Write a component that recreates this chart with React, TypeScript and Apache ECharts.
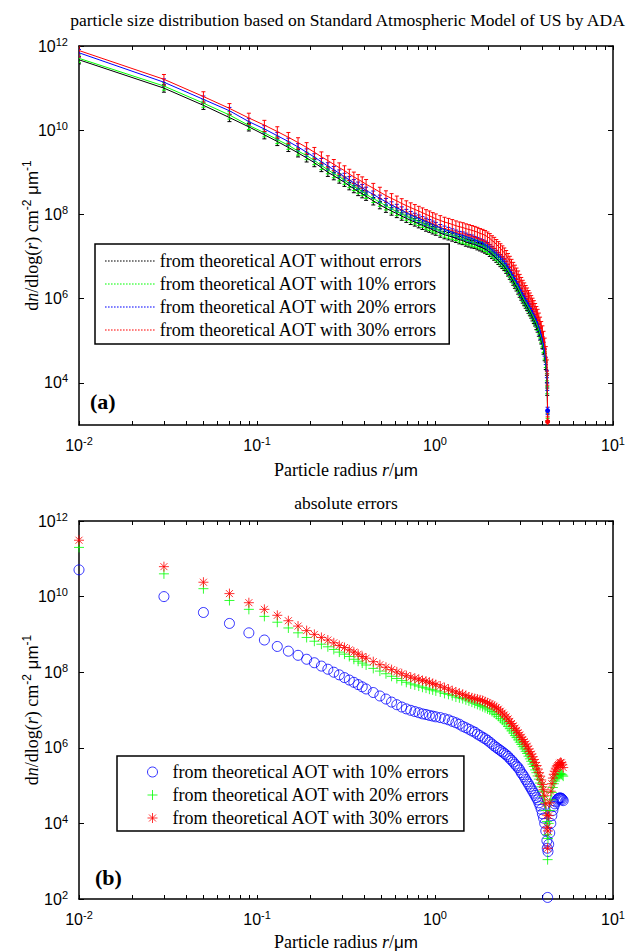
import React, { useEffect, useRef } from 'react';
import * as echarts from 'echarts';

// ---------- data ----------
const radius = [
  0.01, 0.03, 0.05, 0.07, 0.09, 0.11, 0.13, 0.15, 0.17, 0.19,
  0.21, 0.23, 0.25, 0.27, 0.29, 0.31, 0.33, 0.35, 0.37, 0.39,
  0.41, 0.45, 0.49, 0.53, 0.57, 0.61, 0.65, 0.69, 0.73, 0.77,
  0.81, 0.85, 0.89, 0.93, 0.97, 1.01, 1.07, 1.13, 1.19, 1.25,
  1.31, 1.37, 1.43, 1.49, 1.55, 1.61, 1.67, 1.73, 1.79, 1.85,
  1.91, 1.97, 2.03, 2.09, 2.15, 2.21, 2.27, 2.33, 2.39, 2.45,
  2.51, 2.57, 2.63, 2.69, 2.75, 2.81, 2.87, 2.93, 2.99, 3.05,
  3.11, 3.17, 3.23, 3.29, 3.35, 3.41, 3.47, 3.53, 3.59, 3.65,
  3.71, 3.77, 3.83, 3.89, 3.95, 4.01, 4.07, 4.13, 4.19, 4.25,
  4.27, 4.29,
];
const radiusTail = [4.31, 4.35, 4.41, 4.47, 4.53, 4.59, 4.65, 4.71, 4.77, 4.83, 4.89, 4.95, 5.01, 5.07, 5.13, 5.19, 5.25];

// panel (a): retrieved size distributions
const ndTheory = [
  4.7e11, 1.0e11, 3.9e10, 2.0e10, 1.2e10, 7.8e9, 5.4e9, 3.9e9, 2.9e9, 2.2e9,
  1.7e9, 1.3e9, 1.0e9, 8.3e8, 6.9e8, 5.8e8, 4.8e8, 4.1e8, 3.5e8, 3.1e8,
  2.7e8, 2.1e8, 1.7e8, 1.4e8, 1.2e8, 1.05e8, 9.1e7, 8.1e7, 7.2e7, 6.6e7,
  6.0e7, 5.5e7, 5.0e7, 4.7e7, 4.3e7, 4.0e7, 3.6e7, 3.3e7, 3.1e7, 2.9e7,
  2.7e7, 2.5e7, 2.4e7, 2.2e7, 2.1e7, 2.0e7, 1.95e7, 1.8e7, 1.7e7, 1.6e7,
  1.5e7, 1.4e7, 1.26e7, 1.12e7, 1.02e7, 9.1e6, 8.1e6, 7.2e6, 6.5e6, 5.8e6,
  5.0e6, 4.3e6, 3.6e6, 3.1e6, 2.6e6, 2.2e6, 1.9e6, 1.6e6, 1.35e6, 1.15e6,
  9.8e5, 8.5e5, 7.4e5, 6.5e5, 5.6e5, 4.9e5, 4.3e5, 3.7e5, 3.2e5, 2.8e5,
  2.3e5, 2.0e5, 1.6e5, 1.3e5, 1.05e5, 8.1e4, 6.0e4, 4.2e4, 2.6e4, 1.26e4,
  6.3e3, 1.6e3,
];
const ndErr10 = [
  5.1e11, 1.12e11, 4.4e10, 2.3e10, 1.3e10, 8.7e9, 6.0e9, 4.4e9, 3.2e9, 2.5e9,
  1.9e9, 1.45e9, 1.15e9, 9.3e8, 7.8e8, 6.5e8, 5.4e8, 4.6e8, 4.0e8, 3.5e8,
  3.0e8, 2.4e8, 1.95e8, 1.6e8, 1.35e8, 1.17e8, 1.02e8, 9.1e7, 8.1e7, 7.4e7,
  6.8e7, 6.2e7, 5.6e7, 5.2e7, 4.8e7, 4.5e7, 4.0e7, 3.6e7, 3.4e7, 3.2e7,
  3.0e7, 2.75e7, 2.6e7, 2.45e7, 2.35e7, 2.2e7, 2.1e7, 2.0e7, 1.9e7, 1.8e7,
  1.65e7, 1.5e7, 1.4e7, 1.23e7, 1.12e7, 1.0e7, 8.9e6, 7.9e6, 7.1e6, 6.3e6,
  5.5e6, 4.7e6, 4.0e6, 3.4e6, 2.9e6, 2.45e6, 2.1e6, 1.8e6, 1.5e6, 1.26e6,
  1.07e6, 9.3e5, 8.1e5, 7.1e5, 6.2e5, 5.4e5, 4.7e5, 4.1e5, 3.5e5, 3.0e5,
  2.6e5, 2.2e5, 1.8e5, 1.45e5, 1.15e5, 8.9e4, 6.6e4, 4.6e4, 2.9e4, 1.4e4,
  6.9e3, 1.8e3,
];
const ndErr20 = [
  6.9e11, 1.38e11, 5.4e10, 2.9e10, 1.6e10, 1.07e10, 7.4e9, 5.4e9, 4.0e9, 3.0e9,
  2.3e9, 1.78e9, 1.41e9, 1.15e9, 9.5e8, 7.9e8, 6.6e8, 5.6e8, 4.9e8, 4.3e8,
  3.7e8, 3.0e8, 2.4e8, 2.0e8, 1.66e8, 1.45e8, 1.26e8, 1.1e8, 9.8e7, 8.9e7,
  8.1e7, 7.4e7, 6.8e7, 6.3e7, 5.8e7, 5.4e7, 4.8e7, 4.4e7, 4.1e7, 3.8e7,
  3.55e7, 3.3e7, 3.2e7, 3.0e7, 2.8e7, 2.7e7, 2.5e7, 2.35e7, 2.2e7, 2.1e7,
  1.95e7, 1.8e7, 1.6e7, 1.45e7, 1.3e7, 1.17e7, 1.05e7, 9.3e6, 8.3e6, 7.4e6,
  6.5e6, 5.5e6, 4.7e6, 4.0e6, 3.4e6, 2.9e6, 2.45e6, 2.1e6, 1.74e6, 1.48e6,
  1.26e6, 1.1e6, 9.5e5, 8.3e5, 7.2e5, 6.3e5, 5.5e5, 4.8e5, 4.2e5, 3.55e5,
  3.0e5, 2.6e5, 2.1e5, 1.7e5, 1.35e5, 1.05e5, 7.8e4, 5.4e4, 3.4e4, 1.66e4,
  8.3e3, 2.2e3,
];
const ndErr30 = [
  7.8e11, 1.62e11, 6.3e10, 3.3e10, 1.95e10, 1.32e10, 9.3e9, 6.8e9, 5.1e9, 3.9e9,
  3.0e9, 2.35e9, 1.9e9, 1.55e9, 1.29e9, 1.1e9, 9.1e8, 7.8e8, 6.8e8, 6.0e8,
  5.2e8, 4.2e8, 3.4e8, 2.8e8, 2.4e8, 2.1e8, 1.82e8, 1.62e8, 1.45e8, 1.32e8,
  1.2e8, 1.1e8, 1.0e8, 9.3e7, 8.5e7, 7.9e7, 7.2e7, 6.6e7, 6.2e7, 5.8e7,
  5.4e7, 5.1e7, 4.9e7, 4.6e7, 4.4e7, 4.2e7, 4.0e7, 3.8e7, 3.55e7, 3.4e7,
  3.2e7, 2.95e7, 2.7e7, 2.4e7, 2.2e7, 1.95e7, 1.74e7, 1.55e7, 1.38e7, 1.23e7,
  1.07e7, 9.1e6, 7.8e6, 6.6e6, 5.6e6, 4.8e6, 4.1e6, 3.5e6, 2.9e6, 2.45e6,
  2.1e6, 1.82e6, 1.58e6, 1.38e6, 1.2e6, 1.05e6, 9.1e5, 7.9e5, 6.9e5, 5.9e5,
  5.0e5, 4.3e5, 3.5e5, 2.8e5, 2.2e5, 1.74e5, 1.29e5, 8.9e4, 5.6e4, 2.7e4,
  1.26e4, 1.2e3,
];
// relative half-length of the error bars in panel (a), per series
const errorFractionA = [0.2, 0.2, 0.2, 0.3];

// panel (b): absolute errors (radius + radiusTail)
const absErr10 = [
  5.1e10, 1.0e10, 3.8e9, 1.95e9, 1.1e9, 7.1e8, 4.8e8, 3.6e8, 2.8e8, 2.2e8,
  1.78e8, 1.45e8, 1.2e8, 1.0e8, 8.5e7, 7.2e7, 6.2e7, 5.4e7, 4.7e7, 4.1e7,
  3.6e7, 2.9e7, 2.35e7, 1.95e7, 1.62e7, 1.38e7, 1.2e7, 1.07e7, 9.8e6, 9.1e6,
  8.5e6, 7.9e6, 7.6e6, 7.2e6, 6.9e6, 6.6e6, 6.3e6, 5.9e6, 5.5e6, 5.0e6,
  4.6e6, 4.2e6, 3.7e6, 3.4e6, 3.1e6, 2.8e6, 2.6e6, 2.3e6, 2.1e6, 1.9e6,
  1.74e6, 1.58e6, 1.41e6, 1.26e6, 1.12e6, 1.02e6, 9.3e5, 8.5e5, 7.8e5, 7.1e5,
  6.5e5, 5.9e5, 5.2e5, 4.7e5, 4.2e5, 3.7e5, 3.3e5, 3.0e5, 2.6e5, 2.2e5,
  1.95e5, 1.7e5, 1.45e5, 1.26e5, 1.1e5, 9.5e4, 8.3e4, 7.2e4, 6.3e4, 5.5e4,
  4.8e4, 4.2e4, 3.5e4, 2.9e4, 2.35e4, 1.8e4, 1.38e4, 1.0e4, 6.3e3, 3.5e3,
  2.2e3, 1.1e2,
  1.8e3, 2.8e3, 5.6e3, 1.0e4, 1.6e4, 2.2e4, 2.8e4, 3.3e4, 3.7e4, 4.1e4,
  4.4e4, 4.6e4, 4.7e4, 4.7e4, 4.6e4, 4.3e4, 4.0e4,
];
const absErr20 = [
  2.0e11, 4.0e10, 1.62e10, 7.9e9, 4.6e9, 3.0e9, 2.1e9, 1.48e9, 1.1e9, 8.3e8,
  6.6e8, 5.5e8, 4.7e8, 4.0e8, 3.4e8, 3.0e8, 2.6e8, 2.2e8, 1.95e8, 1.74e8,
  1.55e8, 1.26e8, 1.07e8, 9.1e7, 7.8e7, 6.8e7, 6.0e7, 5.4e7, 4.9e7, 4.6e7,
  4.3e7, 4.0e7, 3.8e7, 3.55e7, 3.4e7, 3.2e7, 3.0e7, 2.75e7, 2.6e7, 2.4e7,
  2.2e7, 2.1e7, 2.0e7, 1.86e7, 1.74e7, 1.62e7, 1.51e7, 1.41e7, 1.32e7, 1.23e7,
  1.15e7, 1.07e7, 1.0e7, 9.1e6, 8.3e6, 7.6e6, 6.8e6, 6.0e6, 5.4e6, 4.8e6,
  4.3e6, 3.7e6, 3.2e6, 2.8e6, 2.45e6, 2.1e6, 1.86e6, 1.62e6, 1.41e6, 1.23e6,
  1.07e6, 9.3e5, 8.1e5, 7.1e5, 6.0e5, 5.1e5, 4.4e5, 3.7e5, 3.2e5, 2.6e5,
  2.2e5, 1.8e5, 1.48e5, 1.17e5, 9.3e4, 7.1e4, 5.1e4, 3.5e4, 2.2e4, 1.12e4,
  5.0e3, 1.1e3,
  4.0e3, 1.0e4, 2.2e4, 4.2e4, 6.6e4, 8.9e4, 1.12e5, 1.32e5, 1.51e5, 1.66e5,
  1.82e5, 1.95e5, 2.0e5, 2.1e5, 2.0e5, 1.91e5, 1.78e5,
];
const absErr30 = [
  3.1e11, 6.2e10, 2.4e10, 1.2e10, 6.9e9, 4.6e9, 3.2e9, 2.3e9, 1.66e9, 1.26e9,
  1.0e9, 8.3e8, 7.1e8, 6.0e8, 5.1e8, 4.5e8, 3.9e8, 3.4e8, 3.0e8, 2.6e8,
  2.35e8, 1.9e8, 1.58e8, 1.35e8, 1.17e8, 1.02e8, 9.1e7, 8.1e7, 7.4e7, 6.9e7,
  6.5e7, 6.0e7, 5.8e7, 5.4e7, 5.0e7, 4.7e7, 4.3e7, 3.9e7, 3.55e7, 3.2e7,
  3.0e7, 2.75e7, 2.6e7, 2.4e7, 2.2e7, 2.1e7, 2.0e7, 1.95e7, 1.86e7, 1.78e7,
  1.66e7, 1.55e7, 1.45e7, 1.35e7, 1.26e7, 1.15e7, 1.05e7, 9.3e6, 8.3e6, 7.4e6,
  6.6e6, 5.8e6, 5.0e6, 4.4e6, 3.8e6, 3.3e6, 2.9e6, 2.5e6, 2.2e6, 1.9e6,
  1.66e6, 1.45e6, 1.26e6, 1.1e6, 9.3e5, 7.9e5, 6.8e5, 5.8e5, 4.9e5, 4.1e5,
  3.4e5, 2.75e5, 2.2e5, 1.78e5, 1.41e5, 1.07e5, 7.8e4, 5.4e4, 3.3e4, 1.66e4,
  7.9e3, 2.2e3,
  6.3e3, 1.6e4, 3.5e4, 7.1e4, 1.12e5, 1.58e5, 2.0e5, 2.4e5, 2.75e5, 3.1e5,
  3.4e5, 3.6e5, 3.9e5, 4.1e5, 4.0e5, 3.55e5, 3.0e5,
];

const legendLabelsA = [
  'from theoretical AOT without errors',
  'from theoretical AOT with 10% errors',
  'from theoretical AOT with 20% errors',
  'from theoretical AOT with 30% errors',
];
const legendLabelsB = [
  'from theoretical AOT with 10% errors',
  'from theoretical AOT with 20% errors',
  'from theoretical AOT with 30% errors',
];
const titleA = 'particle size distribution based on Standard Atmospheric Model of US by ADA';
const titleB = 'absolute errors';

const xTickValues = [
  0.01, 0.02, 0.03, 0.04, 0.05, 0.06, 0.07, 0.08, 0.09,
  0.1, 0.2, 0.3, 0.4, 0.5, 0.6, 0.7, 0.8, 0.9,
  1, 2, 3, 4, 5, 6, 7, 8, 9, 10,
];
const xLabelValues = [0.01, 0.1, 1, 10];
const yLabelValuesA = [1e4, 1e6, 1e8, 1e10, 1e12];
const yLabelValuesB = [1e2, 1e4, 1e6, 1e8, 1e10, 1e12];

// ---------- styling ----------
const SERIF = "'Liberation Serif', 'Times New Roman', serif";
const SANS = "'Liberation Sans', Arial, sans-serif";
const colorsA = ['#000000', '#00ff00', '#0000ff', '#ff0000'];
const colorsB = ['#0000ff', '#00ff00', '#ff0000'];

// dotted legend sample line (50 x 1)
const dottedIcon = 'path://' + Array.from({ length: 17 }, (_, i) => `M${i * 3},0h1.6v1h-1.6z`).join('');

const powRich = {
  b: { fontFamily: SANS, fontSize: 16, lineHeight: 20, color: '#000' },
  s: { fontFamily: SANS, fontSize: 11, lineHeight: 10, verticalAlign: 'top', color: '#000' },
};
const powLabel = (v: number) => `{b|10}{s|${Math.round(Math.log10(v))}}`;

const nameRich = {
  t: { fontFamily: SERIF, fontSize: 18, lineHeight: 22, color: '#000' },
  i: { fontFamily: SERIF, fontSize: 18, lineHeight: 22, fontStyle: 'italic', color: '#000' },
  u: { fontFamily: SANS, fontSize: 17, lineHeight: 22, color: '#000' },
  s: { fontFamily: SANS, fontSize: 12, lineHeight: 11, verticalAlign: 'top', color: '#000' },
};
const xName = '{t|Particle radius }{i|r}{t|/}{u|μm}';
const yName = '{t|d}{i|n}{t|/dlog(}{i|r}{t|) cm}{s|-2}{u| μm}{s|-1}';

const axisLineStyle = { show: true, onZero: false, lineStyle: { color: '#000', width: 1.5 } };

function xAxes(grid: number, nameGap: number) {
  return [
    {
      type: 'log', logBase: 10, gridIndex: grid, min: 0.01, max: 10, position: 'bottom',
      axisLine: axisLineStyle,
      axisTick: { show: true, inside: true, length: 4, customValues: xTickValues, lineStyle: { color: '#000', width: 1 } },
      axisLabel: { show: true, customValues: xLabelValues, formatter: powLabel, rich: powRich, margin: 10 },
      splitLine: { show: false },
      name: xName, nameLocation: 'middle', nameGap, nameTextStyle: { fontFamily: SERIF, rich: nameRich },
    },
    {
      type: 'log', logBase: 10, gridIndex: grid, min: 0.01, max: 10, position: 'top',
      axisLine: axisLineStyle,
      axisTick: { show: true, inside: true, length: 4, customValues: xTickValues, lineStyle: { color: '#000', width: 1 } },
      axisLabel: { show: false },
      splitLine: { show: false },
    },
  ];
}
function yAxes(grid: number, min: number, ticks: number[]) {
  return [
    {
      type: 'log', logBase: 10, gridIndex: grid, min, max: 1e12, position: 'left',
      axisLine: axisLineStyle,
      axisTick: { show: true, inside: true, length: 5, customValues: ticks, lineStyle: { color: '#000', width: 1 } },
      axisLabel: { show: true, customValues: ticks, formatter: powLabel, rich: powRich, margin: 11 },
      splitLine: { show: false },
      name: yName, nameLocation: 'middle', nameRotate: 90, nameGap: 36, nameMoveOverlap: false,
      nameTextStyle: { fontFamily: SERIF, rich: nameRich },
    },
    {
      type: 'log', logBase: 10, gridIndex: grid, min, max: 1e12, position: 'right',
      axisLine: axisLineStyle,
      axisTick: { show: true, inside: true, length: 5, customValues: ticks, lineStyle: { color: '#000', width: 1 } },
      axisLabel: { show: false },
      splitLine: { show: false },
    },
  ];
}

const makeErrorBar = (color: string) => (_params: any, api: any) => {
  const x = api.value(0);
  const lo = api.coord([x, api.value(1)]);
  const hi = api.coord([x, api.value(2)]);
  const cap = 2;
  const style = { stroke: color, lineWidth: 1 };
  return {
    type: 'group',
    children: [
      { type: 'line', shape: { x1: lo[0], y1: lo[1], x2: hi[0], y2: hi[1] }, style },
      { type: 'line', shape: { x1: lo[0] - cap, y1: lo[1], x2: lo[0] + cap, y2: lo[1] }, style },
      { type: 'line', shape: { x1: hi[0] - cap, y1: hi[1], x2: hi[0] + cap, y2: hi[1] }, style },
    ],
  };
};

function buildOption() {
  const seriesA = [ndTheory, ndErr10, ndErr20, ndErr30];
  const seriesB = [absErr10, absErr20, absErr30];
  const radiusB = [...radius, ...radiusTail];
  const last = radius.length - 1;
  const series: any[] = [];

  seriesA.forEach((vals, k) => {
    const f = errorFractionA[k];
    series.push({
      type: 'custom',
      xAxisIndex: 0, yAxisIndex: 0,
      silent: true, clip: true,
      encode: { x: 0, y: [1, 2] },
      data: radius.map((r, i) => [r, vals[i] * (1 - f), vals[i] * (1 + f)]),
      renderItem: makeErrorBar(colorsA[k]),
      z: 2,
    });
    series.push({
      type: 'line',
      name: 'A' + k,
      xAxisIndex: 0, yAxisIndex: 0,
      symbol: 'none',
      lineStyle: { color: colorsA[k], width: 1 },
      itemStyle: { color: colorsA[k] },
      data: radius.map((r, i) =>
        i === last && k >= 2 ? { value: [r, vals[i]], symbol: 'circle', symbolSize: 5 } : [r, vals[i]]
      ),
      z: 2,
    });
  });

  const symbolsB = [
    'circle',
    'path://M5,0L5,10M0,5L10,5',
    'path://M5,0L5,10M0,5L10,5M1.5,1.5L8.5,8.5M8.5,1.5L1.5,8.5',
  ];
  seriesB.forEach((vals, k) => {
    series.push({
      type: 'scatter',
      name: 'B' + k,
      xAxisIndex: 2, yAxisIndex: 2,
      symbol: symbolsB[k],
      symbolSize: 10,
      itemStyle: { color: 'rgba(0,0,0,0)', borderColor: colorsB[k], borderWidth: 1 },
      data: radiusB.map((r, i) => [r, vals[i]]),
      z: 2,
    });
  });

  const legendText = { fontFamily: SERIF, fontSize: 18, color: '#000' };

  return {
    animation: false,
    backgroundColor: '#ffffff',
    textStyle: { fontFamily: SERIF },
    grid: [
      { left: 79, top: 46, width: 537, height: 379 },
      { left: 79, top: 521, width: 537, height: 380 },
    ],
    xAxis: [...xAxes(0, 34), ...xAxes(1, 32)],
    yAxis: [...yAxes(0, 1e3, yLabelValuesA), ...yAxes(1, 1e2, yLabelValuesB)],
    legend: [
      {
        data: ['A0', 'A1', 'A2', 'A3'].map((n) => ({ name: n, icon: dottedIcon })),
        formatter: (n: string) => legendLabelsA[Number(n.slice(1))],
        orient: 'vertical', left: 95, top: 244,
        itemWidth: 50, itemHeight: 1, itemGap: 5,
        padding: [8, 12, 5, 10],
        borderColor: '#000', borderWidth: 1.5, borderRadius: 0,
        backgroundColor: '#fff',
        selectedMode: false,
        itemStyle: { borderWidth: 0 },
        textStyle: legendText,
        z: 10,
      },
      {
        data: ['B0', 'B1', 'B2'],
        formatter: (n: string) => legendLabelsB[Number(n.slice(1))],
        orient: 'vertical', left: 117, top: 756,
        itemWidth: 30, itemHeight: 10, itemGap: 5,
        padding: [7, 14, 4, 30],
        borderColor: '#000', borderWidth: 1.5, borderRadius: 0,
        backgroundColor: '#fff',
        selectedMode: false,
        itemStyle: { borderWidth: 1 },
        textStyle: legendText,
        z: 10,
      },
    ],
    graphic: [
      {
        type: 'text', x: 347.5, y: 20,
        style: { text: titleA, fontFamily: SERIF, fontSize: 17.5, fill: '#000', textAlign: 'center', textVerticalAlign: 'middle', align: 'center', verticalAlign: 'middle' },
      },
      {
        type: 'text', x: 346, y: 503,
        style: { text: titleB, fontFamily: SERIF, fontSize: 17.5, fill: '#000', textAlign: 'center', textVerticalAlign: 'middle', align: 'center', verticalAlign: 'middle' },
      },
      {
        type: 'text', x: 90, y: 401, z: 20,
        style: { text: '(a)', fontFamily: SERIF, fontSize: 22, fontWeight: 'bold', fill: '#000', textAlign: 'left', textVerticalAlign: 'middle', align: 'left', verticalAlign: 'middle' },
      },
      {
        type: 'text', x: 95, y: 877, z: 20,
        style: { text: '(b)', fontFamily: SERIF, fontSize: 22, fontWeight: 'bold', fill: '#000', textAlign: 'left', textVerticalAlign: 'middle', align: 'left', verticalAlign: 'middle' },
      },
    ],
    series,
  };
}

export default function App() {
  const ref = useRef<HTMLDivElement>(null);
  useEffect(() => {
    if (!ref.current) return;
    const chart = echarts.init(ref.current, undefined, { renderer: 'svg' });
    chart.setOption(buildOption() as any);
    return () => chart.dispose();
  }, []);
  return (
    <div
      ref={ref}
      style={{ position: 'absolute', left: 0, top: 0, width: 628, height: 952, background: '#fff' }}
    />
  );
}
